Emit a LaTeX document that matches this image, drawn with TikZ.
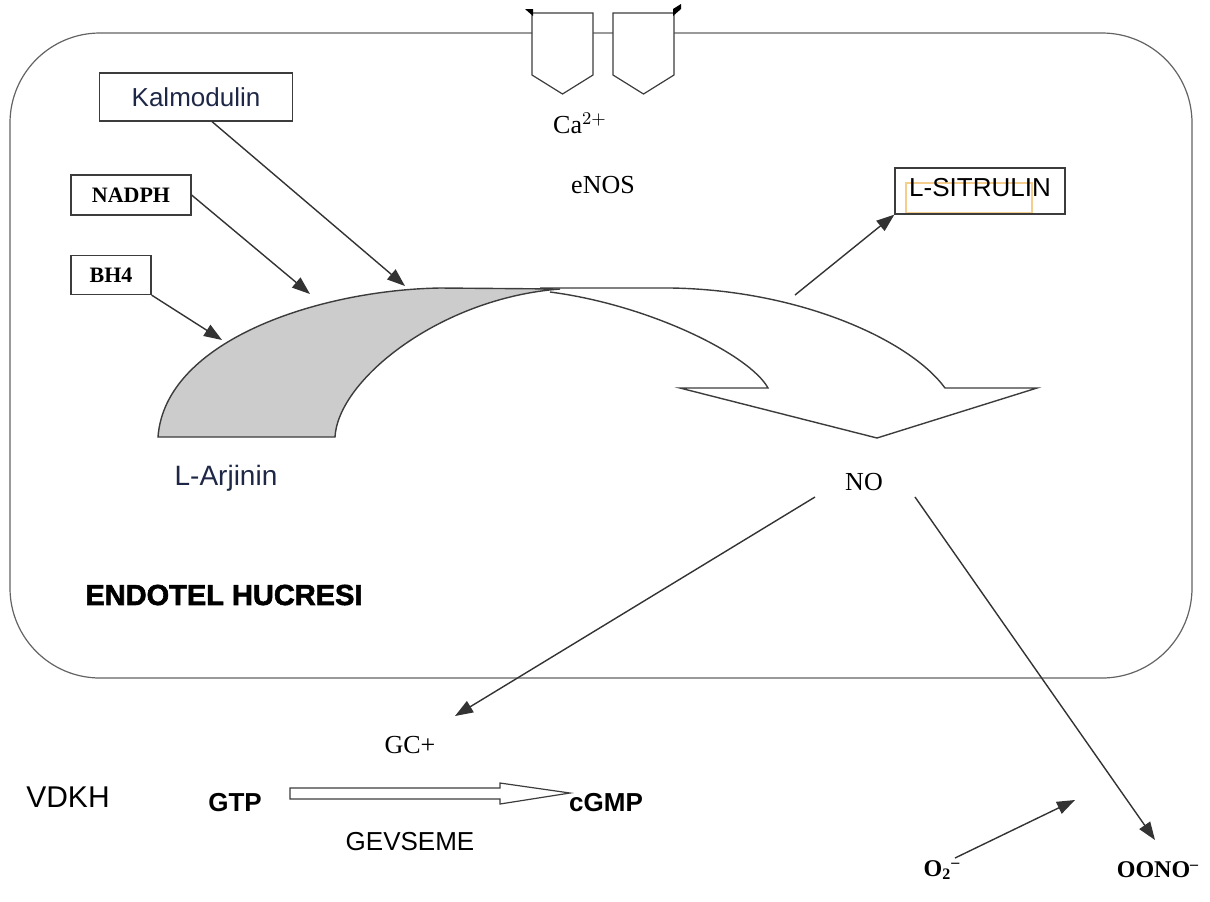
\documentclass[tikz,border=0pt]{standalone}
\usepackage{fontspec}
\setmainfont{Liberation Serif}
\setsansfont{Liberation Sans}
\newfontfamily\heavyfont{Liberation Sans}[BoldFeatures={FakeBold=2}]
\usepackage{tikz}
\usetikzlibrary{arrows.meta}
\definecolor{Navy}{RGB}{30,40,70}
\definecolor{Edge}{RGB}{60,60,60}
\definecolor{Shade}{RGB}{204,204,204}
\definecolor{Hint}{RGB}{245,205,140}
\newcommand{\IonGate}[1]{% left x of one channel
\draw[Edge,fill=white,line width=0.6pt] (#1,13) -- (#1+61,13) -- (#1+61,75) -- (#1+30.5,94) -- (#1,75) -- cycle;
}

\begin{document}
\begin{tikzpicture}[x=0.5pt,y=-0.5pt,
  box/.style={draw=Edge,line width=0.6pt,inner sep=0pt},
  tag/.style={inner sep=1pt},
  arr/.style={-{Triangle[length=9pt,width=6.5pt]},line width=0.7pt,draw=black!80},
  sans/.style={font=\sffamily\fontsize{13}{15}\selectfont},
  serif/.style={font=\fontsize{13}{15}\selectfont}]
\useasboundingbox (0,0) rectangle (1210,901);
% cell outline
\draw[Edge!80,line width=0.6pt,rounded corners=45pt] (10,33) rectangle (1192,678);
% calcium channels in the membrane
\IonGate{532}
\IonGate{613}
\fill (525,9) -- (533,9) -- (533,16) -- cycle;
\fill (673,9) -- (681,4) -- (681,9) -- (673,16) -- cycle;
\node[tag,serif] (ca) at (580,123) {Ca$^{2+}$};
\node[tag,serif] (enos) at (603,185) {eNOS};
% cofactor boxes
\node[box,sans,text=Navy,minimum width=96.5pt,minimum height=24pt] (kal) at (196,97) {Kalmodulin};
\node[box,font=\bfseries\fontsize{11}{13}\selectfont,minimum width=60pt,minimum height=20pt] (nad) at (131,195) {NADPH};
\node[box,font=\bfseries\fontsize{11}{13}\selectfont,minimum width=40pt,minimum height=19.5pt] (bh) at (111,275) {BH4};
\draw[Hint,line width=0.6pt] (906,183) rectangle (1032,213);
\node[box,minimum width=85pt,minimum height=23pt] (sit) at (980,191) {};
\node[tag,sans] (sittext) at (980,188) {L-SITRULIN};
% big curved arrow: white head part
\draw[Edge,line width=0.7pt,fill=white] (540,288) -- (671,288) .. controls (800,290) and (910,340) .. (945,388) -- (1037,388) -- (877,438) -- (680,388) -- (768,388) .. controls (750,355) and (650,305) .. (550,292);
% big curved arrow: grey tail part
\draw[Edge,line width=0.7pt,fill=Shade] (158,437) .. controls (165,340) and (320,290) .. (440,288) -- (560,289) .. controls (440,298) and (338,380) .. (335,437) -- cycle;
% targets on the arc
\coordinate (kalT) at (405,286);
\coordinate (nadT) at (310,294);
\coordinate (bhT) at (222,340);
\coordinate (sitS) at (795,295);
\draw[arr] ([xshift=8pt]kal.south) -- (kalT);
\draw[arr] (nad.east) -- (nadT);
\draw[arr] (bh.south east) -- (bhT);
\draw[arr] (sitS) -- (sit.south west);
% labels inside the cell
\node[tag,text=Navy,font=\sffamily\fontsize{14}{16}\selectfont] (arj) at (226,478) {L-Arjinin};
\node[tag,serif] (no) at (864,482) {NO};
\node[tag,font=\heavyfont\bfseries\fontsize{14.5}{16}\selectfont,anchor=west] (cell) at (83,595) {ENDOTEL HUCRESI};
% outside: smooth muscle
\node[tag,serif] (gc) at (410,745) {GC+};
\node[tag,font=\sffamily\fontsize{15}{17}\selectfont] (vdkh) at (68,797) {VDKH};
\node[tag,font=\sffamily\bfseries\fontsize{13}{15}\selectfont] (gtp) at (235,803) {GTP};
\node[tag,font=\sffamily\bfseries\fontsize{13}{15}\selectfont] (cgmp) at (606,803) {cGMP};
\node[tag,sans] (gev) at (410,842) {GEVSEME};
\node[tag,font=\bfseries\fontsize{12}{14}\selectfont] (otwo) at (942,870) {O\textsubscript{2}\textsuperscript{--}};
\node[tag,font=\bfseries\fontsize{12}{14}\selectfont] (oono) at (1158,870) {OONO\textsuperscript{--}};
% hollow conversion arrow
\draw[Edge,line width=0.6pt,fill=white] (290,788) -- (500,788) -- (500,783) -- (570,793) -- (500,804) -- (500,799) -- (290,799) -- cycle;
% NO reactions
\draw[arr] ([shift={(-49,15)}]no.center) -- ([shift={(45,-29)}]gc.center);
\draw[arr] ([shift={(51,15)}]no.center) -- ([shift={(-3,-30)}]oono.center);
\coordinate (radT) at (1075,800);
\draw[arr] ([shift={(13,-12)}]otwo.center) -- (radT);
\end{tikzpicture}
\end{document}
